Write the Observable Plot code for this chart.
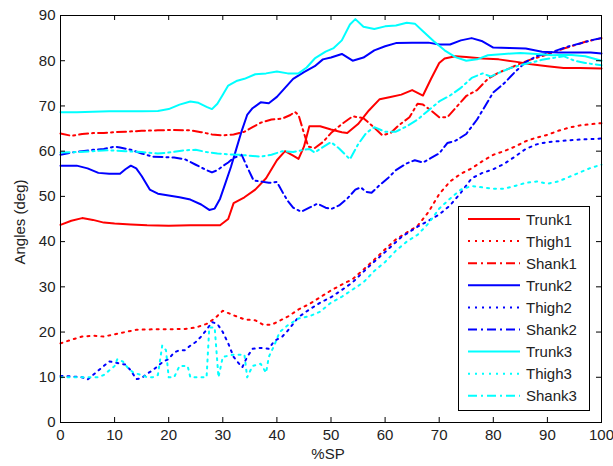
<!DOCTYPE html>
<html>
<head>
<meta charset="utf-8">
<script src="https://cdn.jsdelivr.net/npm/d3@7"></script>
<script src="https://cdn.jsdelivr.net/npm/@observablehq/plot@0.6"></script>
<style>
  body { margin: 0; background: #fff; }
  #wrap { position: relative; width: 613px; height: 466px; font-family: "Liberation Sans", Arial, sans-serif; }
  #legend { position: absolute; left: 458px; top: 206px; width: 130px; height: 203px; border: 1px solid #000; background: #fff; }
</style>
</head>
<body>
<div id="wrap"></div>
<script>
// ---- data (x = %SP, y = angle in deg) ----
const trunk1 = [[0,43.7],[2,44.6],[4,45.2],[6,44.8],[8,44.2],[10,44],[13,43.8],[16,43.6],[20,43.5],[24,43.6],[27,43.6],[29.5,43.6],[31,45],[32,48.5],[34,49.8],[36,51.5],[38,54],[40,58],[41.5,60],[43,59],[44,58.3],[45,61],[46,65.5],[48,65.5],[50,64.8],[52,64.2],[53,64],[55,66],[57,69],[59,71.5],[61,72],[63,72.5],[65,73.5],[67,72.3],[68.5,76],[70,79.5],[71,80.5],[73,81],[75,80.8],[78,80.5],[81,80.3],[84,79.8],[87,79.2],[90,78.8],[93,78.4],[96,78.4],[100,78.3]];
const thigh1 = [[0,17.5],[2,18.3],[4,19],[6,19.2],[8,19],[10,19.5],[12,20],[14,20.5],[17,20.6],[20,20.6],[23,20.7],[25,21],[27,21.8],[28.5,23],[30,24.7],[32,23.7],[34,22.8],[36,22.6],[37.5,21.6],[39,21.6],[40.5,22.5],[42,23.4],[44,25],[46,26.2],[48,27.7],[50,29.2],[52,30.5],[54,31.7],[56,33.8],[58,36],[60,38.3],[62,40.5],[64,42],[66,43.5],[68,46.5],[70,50.5],[72,53.3],[74,55],[76,56.2],[78,57.8],[80,59.2],[82,60],[84,61],[86,62.2],[88,63],[90,63.6],[92,64.5],[94,65.2],[96,65.7],[100,66.2]];
const shank1 = [[0,63.9],[2,63.4],[4,63.8],[6,64],[8,64],[10,64.2],[12,64.3],[15,64.5],[18,64.6],[21,64.7],[24,64.6],[26,64.2],[28,63.7],[30,63.5],[32,63.7],[34,64.3],[35.5,65.3],[37,66.3],[39,67],[41,67.2],[42.5,68],[43.3,68.7],[44,68],[45,64],[45.8,61],[47,60.7],[48.5,62],[50,64],[52,66],[54,67.7],[56,67.3],[58,65.2],[59.5,63.5],[61,64],[62.5,65.7],[64.5,67.5],[66,70.5],[67,70.3],[68.5,69],[70,67.5],[71.5,67.5],[73,69.5],[75,72.2],[77,73.5],[79,76],[81,77.4],[83,78.3],[85,79.4],[87,80.3],[89,81],[91,81.8],[93,82.7],[95,83.4],[97,84.2],[100,85]];
const trunk2 = [[0,56.8],[3,56.8],[5,56.2],[7,55.2],[9,55],[11,55],[12,56],[13,56.8],[14,56.2],[15,54.5],[16.5,51.5],[18,50.6],[20,50.2],[22,49.8],[24,49.3],[26,48.2],[27.5,47],[28.5,47.3],[29.5,49.5],[30.5,53],[31.5,56.5],[32.5,60.5],[33.5,64.5],[34.5,68],[35.5,69.5],[37,70.8],[38.5,70.6],[40,72],[41.5,74],[43,76],[45,77.5],[47,78.8],[48.5,80.3],[50,80.7],[52,81.5],[54,80],[56,80.7],[58,82.3],[60,83.2],[62,83.9],[65,84],[68,84],[70,83.6],[72,83.6],[74,84.5],[76,85],[78,84.3],[80,82.9],[83,82.8],[86,82.7],[89,82],[92,81.8],[95,81.8],[98,81.8],[100,81.6]];
const thigh2 = [[0,10.3],[2,10.2],[4,10],[5,9.5],[6,10.5],[7,11.5],[8,12.5],[9,13.5],[10,13.3],[11,13],[12,12.8],[13,11.5],[14,9.6],[15,9.8],[16,10.8],[17,11.5],[18,12.5],[19,13.5],[20,14],[21,15.5],[22,16],[23,16],[24,17],[25,17.8],[26,19],[27,20.5],[28,22.2],[29,21.8],[30,20],[31,17.5],[32,14.5],[33,13],[33.6,12.2],[34.5,14.5],[35.5,16.3],[37,16.5],[38.5,16.3],[39.5,18],[41,19],[42,20.3],[43,21.8],[44,23.3],[46,25],[48,26.5],[50,27.7],[52,29.3],[54,31],[57,34.5],[60,37.7],[63,41],[66,43.3],[68,44.6],[70,46],[72,48],[74,50.8],[76,54],[78,55.2],[80,56],[82,57.2],[84,58.8],[86,60.5],[88,61.5],[90,62],[92,62.2],[95,62.5],[100,62.8]];
const shank2 = [[0,59.2],[2,59.7],[4,60],[6,60.3],[8,60.5],[10,61],[11,60.8],[13,60.3],[15,59.5],[17,58.8],[19,58.7],[21,58.6],[23,58.2],[25,57],[27,55.8],[28,55.3],[29,55.8],[30,56.7],[31,57.5],[32,58.5],[33.5,59.2],[34.5,56.5],[35.7,53.5],[37,53.3],[38.5,53],[40,53.2],[41.2,50.6],[42,49],[43,47.5],[44.5,46.6],[46,47.5],[47.5,48.4],[49,47.5],[50,47.2],[51.5,48],[53,49.5],[54.5,51.5],[55.5,52],[56.5,51],[57.5,50.8],[59,52.5],[60.5,54],[62,55.8],[64,57.3],[65.5,58],[67,57.5],[68.5,58.5],[70,59.5],[71.5,61.8],[73,62.3],[75,63.8],[77,67],[78.5,70],[80,73],[82,75],[84,77.5],[86,79.7],[88,81],[90,81.6],[92,82.4],[94,83.2],[96,83.8],[98,84.5],[100,85]];
const trunk3 = [[0,68.6],[3,68.6],[6,68.7],[9,68.8],[12,68.8],[15,68.8],[18,68.9],[20,69.3],[22,70.3],[24,71],[25.5,70.7],[27,69.8],[28,69.3],[29,70.5],[30,72.5],[31,74.5],[32.5,75.5],[34,76],[36,77],[38,77.2],[40,77.6],[42,77.2],[44,77.2],[45.5,78.5],[47,80.5],[49,82],[50.5,82.8],[52,84.5],[53.5,88],[54.5,89.2],[56,87.5],[58,87],[60,87.6],[62,87.8],[64,88.4],[65.5,88.2],[67,86.5],[69,84.3],[71,82.3],[73,80.8],[75,80],[77,80.3],[79,81.2],[82,81.5],[85,81.7],[88,81.5],[91,81.2],[94,81.3],[97,81],[100,80]];
const thigh3 = [[0,10],[3,10],[5,10],[7,10],[8,10.5],[9,11.5],[10,12.5],[10.5,14],[11.5,13.5],[12.5,12],[13.5,11],[15,10.5],[16,10],[17,10],[18,10.5],[18.8,17],[19.5,16],[20,10],[21,10],[22,12.5],[23.5,12.5],[24,10],[26,10],[27,10],[27.5,21],[28.5,21],[29.2,10],[30,14.5],[32,15],[34,15],[34.5,10],[35.5,12.5],[37,13],[38,11],[38.5,14.5],[39.5,17],[40.5,20],[42,21.5],[44,23],[46,23.5],[48,24.5],[50,26.5],[52,27.8],[54,29.4],[56,31],[58,33.5],[60,35.5],[62,38],[64,40],[66,41.5],[68,44],[70,47.3],[72,49.5],[74,51.5],[76,52.3],[78,52],[80,51.7],[82,51.7],[84,52.3],[86,53],[88,53.3],[90,52.8],[92,53.3],[94,54.3],[96,55.3],[98,56.3],[100,57]];
const shank3 = [[0,59.7],[3,59.8],[6,60],[9,60.2],[12,60],[15,59.8],[18,59.5],[20,59.7],[23,60.2],[25,60.3],[27,59.8],[29,59.5],[31,59.3],[33,59.2],[35,59],[37,58.8],[39,59.2],[41,60],[43,59.8],[45,60.3],[46,60.5],[47,59.7],[48,60.5],[50,62],[51.5,60.6],[53.5,58.2],[55,61.5],[56.5,64],[58,65.3],[60,64.3],[62,64.3],[64,65.5],[66,67],[68,69],[70,71],[72,72.3],[74,74],[76,76.2],[78,77.2],[79.5,76.5],[81,77.3],[83,78.3],[85,79],[87,79.6],[89,80.2],[91,80.6],[93,81],[95,80],[97,79.5],[100,79]];

const names = ["Trunk1","Thigh1","Shank1","Trunk2","Thigh2","Shank2","Trunk3","Thigh3","Shank3"];
const values = [trunk1, thigh1, shank1, trunk2, thigh2, shank2, trunk3, thigh3, shank3];
const colors = ["#ff0000","#ff0000","#ff0000","#0000ff","#0000ff","#0000ff","#00ffff","#00ffff","#00ffff"];
const styles = ["solid","dotted","dashdot","solid","dotted","dashdot","solid","dotted","dashdot"];
const xTicks = [0,10,20,30,40,50,60,70,80,90,100];
const yTicks = [0,10,20,30,40,50,60,70,80,90];
const dashFor = {solid: null, dotted: "2,5", dashdot: "9,4,2,4"};

const W = 613, H = 466, mt = 15, mb = 44, ml = 60, mr = 12;
const ph = H - mt - mb, pw = W - ml - mr;

const lineMarks = values.map((v, i) => Plot.line(v, {
  x: d => d[0], y: d => d[1],
  stroke: colors[i], strokeWidth: 2,
  strokeDasharray: dashFor[styles[i]],
  curve: "linear"
}));

const chart = Plot.plot({
  width: W, height: H,
  marginTop: mt, marginBottom: mb, marginLeft: ml, marginRight: mr,
  style: {fontFamily: "'Liberation Sans', Arial, sans-serif", fontSize: "15px", color: "#222", background: "#fff"},
  x: {domain: [0, 100]},
  y: {domain: [0, 90]},
  marks: [
    ...lineMarks,
    Plot.tickX(xTicks, {x: d => d, insetTop: ph - 5, stroke: "#000"}),
    Plot.tickX(xTicks, {x: d => d, insetBottom: ph - 5, stroke: "#000"}),
    Plot.tickY(yTicks, {y: d => d, insetRight: pw - 5, stroke: "#000"}),
    Plot.tickY(yTicks, {y: d => d, insetLeft: pw - 5, stroke: "#000"}),
    Plot.axisX({ticks: xTicks, tickSize: 0, tickPadding: 7, label: null, fontSize: 15}),
    Plot.axisY({ticks: yTicks, tickSize: 0, tickPadding: 5, label: null, fontSize: 15}),
    Plot.frame({stroke: "#000", strokeWidth: 1})
  ]
});

const wrap = document.getElementById("wrap");
wrap.appendChild(chart);

// axis titles
const svg = d3.select(chart);
svg.append("text").attr("x", 328).attr("y", 459).attr("text-anchor", "middle")
  .attr("font-size", 15).attr("fill", "#222").text("%SP");
svg.append("text").attr("transform", "translate(25,222) rotate(-90)").attr("text-anchor", "middle")
  .attr("font-size", 15).attr("fill", "#222").text("Angles (deg)");

// legend
const leg = document.createElement("div");
leg.id = "legend";
wrap.appendChild(leg);
const ls = d3.select(leg).append("svg").attr("width", 130).attr("height", 203);
names.forEach((n, i) => {
  const cy = 12 + i * 22.1;
  ls.append("line").attr("x1", 9).attr("x2", 61).attr("y1", cy).attr("y2", cy)
    .attr("stroke", colors[i]).attr("stroke-width", 2)
    .attr("stroke-dasharray", dashFor[styles[i]]);
  ls.append("text").attr("x", 67).attr("y", cy + 5.5).attr("font-size", 15)
    .attr("fill", "#222").attr("font-family", "'Liberation Sans', Arial, sans-serif").text(n);
});
</script>
</body>
</html>
